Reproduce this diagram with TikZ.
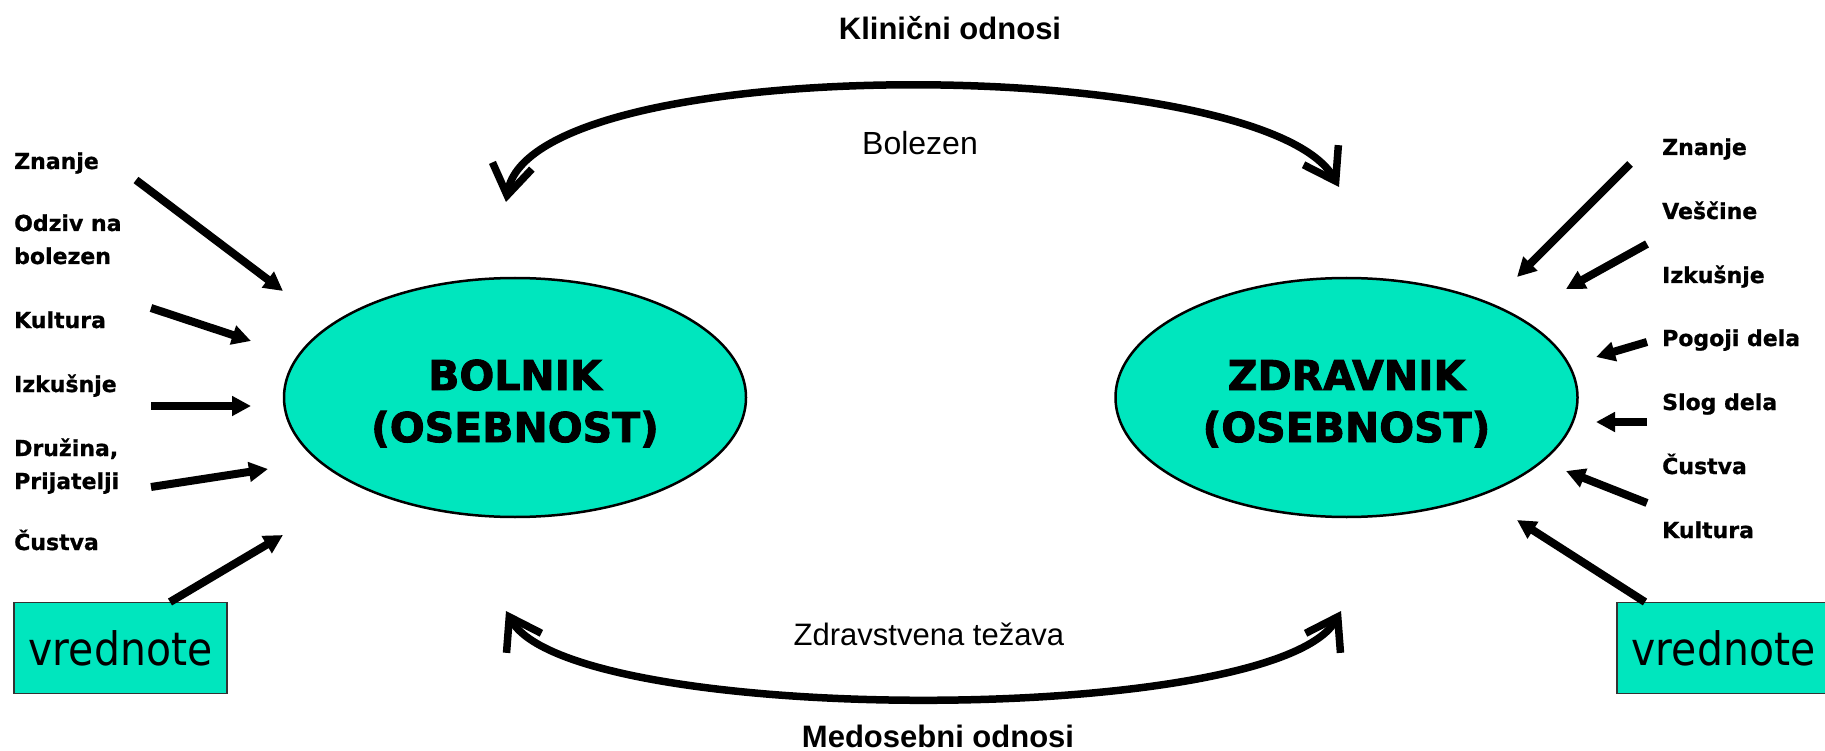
\documentclass[tikz,border=0pt]{standalone}
\usepackage{fontspec}
\setmainfont{Liberation Sans}
\newfontfamily\lblfont[FakeBold=0.9]{DejaVu Sans Bold}
\newfontfamily\perfont[FakeBold=2.2]{DejaVu Sans Bold}
\newfontfamily\vrfont[FakeStretch=0.89]{DejaVu Sans}
\usetikzlibrary{arrows.meta,shapes.geometric}
\definecolor{turq}{HTML}{00E6BE}
\begin{document}
\begin{tikzpicture}[x=1pt,y=-1pt,
  lbl/.style={anchor=base west,inner sep=0pt,font=\lblfont\fontsize{22}{33}\selectfont},
  person/.style={ellipse,draw=black,line width=2.5pt,fill=turq,minimum width=462pt,minimum height=239pt,inner sep=0pt},
  ptext/.style={anchor=base,inner sep=0pt,font=\perfont\fontsize{41}{52}\selectfont},
  valbox/.style={draw=black!80,line width=1.2pt,fill=turq,minimum width=213pt,minimum height=91pt,inner sep=0pt,font=\vrfont\fontsize{46}{55}\selectfont},
  inarrow/.style={line width=8pt,-{Triangle[length=19pt,width=19pt]}},
  relarrow/.style={line width=7.5pt,{Straight Barb[length=30pt,width=40pt]}-{Straight Barb[length=30pt,width=40pt]}},
  reltitle/.style={anchor=base,inner sep=0pt,font=\bfseries\fontsize{31}{37}\selectfont},
  reltext/.style={anchor=base,inner sep=0pt,font=\fontsize{32}{38}\selectfont}
]
\useasboundingbox[fill=white] (0,0) rectangle (1825,751);

% relation titles and texts
\node[reltitle] (klin) at (950,40) {Klinični odnosi};
\node[reltitle] (medo) at (938,747) {Medosebni odnosi};
\node[reltext] (bolz) at (920,155) {Bolezen};
\node[reltext,font=\fontsize{31}{37}\selectfont] (zdrt) at (929,645) {Zdravstvena težava};

% curved relation arrows
\coordinate (tl) at (506,202);
\coordinate (tr) at (1339,187);
\draw[relarrow] (tl) .. controls (532,49) and (1264,54) .. (tr);
\coordinate (bl) at (506,611);
\coordinate (br) at (1341,611);
\draw[relarrow] (bl) .. controls (571,727) and (1276,727) .. (br);

% persons
\node[person] (bol) at (515,397.5) {};
\node[ptext] (boltxt) at (515,390) {\begin{tabular}[t]{@{}c@{}}BOLNIK\\(OSEBNOST)\end{tabular}};
\node[person] (zdr) at (1346.5,397.5) {};
\node[ptext] (zdrtxt) at (1346.5,390) {\begin{tabular}[t]{@{}c@{}}ZDRAVNIK\\(OSEBNOST)\end{tabular}};

% value boxes
\node[valbox] (vl) at (120.5,648) {vrednote};
\node[valbox] (vr) at (1723.5,648) {vrednote};

% left labels
\node[lbl] (lzn) at (14,169) {Znanje};
\node[lbl] (lodz) at (14,231) {\begin{tabular}[t]{@{}l@{}}Odziv na\\bolezen\end{tabular}};
\node[lbl] (lkul) at (14,328) {Kultura};
\node[lbl] (lizk) at (14,392) {Izkušnje};
\node[lbl] (ldru) at (14,456) {\begin{tabular}[t]{@{}l@{}}Družina,\\Prijatelji\end{tabular}};
\node[lbl] (lcus) at (14,550) {Čustva};

% right labels
\node[lbl] (rzn) at (1662,155) {Znanje};
\node[lbl] (rves) at (1662,219) {Veščine};
\node[lbl] (rizk) at (1662,283) {Izkušnje};
\node[lbl] (rpog) at (1662,346) {Pogoji dela};
\node[lbl] (rslo) at (1662,410) {Slog dela};
\node[lbl] (rcus) at (1662,474) {Čustva};
\node[lbl] (rkul) at (1662,538) {Kultura};

% left arrows
\coordinate (la1) at (136,180);  \coordinate (la1e) at (283,291);
\coordinate (la2) at (151,308);  \coordinate (la2e) at (251,341);
\coordinate (la3) at (151,406);  \coordinate (la3e) at (251,406);
\coordinate (la4) at (151,487);  \coordinate (la4e) at (268,469);
\coordinate (la5) at (170,602);  \coordinate (la5e) at (283,535);
\draw[inarrow] (la1) -- (la1e);
\draw[inarrow] (la2) -- (la2e);
\draw[inarrow] (la3) -- (la3e);
\draw[inarrow] (la4) -- (la4e);
\draw[inarrow] (la5) -- (la5e);

% right arrows
\coordinate (ra1) at (1630,164);  \coordinate (ra1e) at (1517,277);
\coordinate (ra2) at (1647,244);  \coordinate (ra2e) at (1566,289);
\coordinate (ra3) at (1647,342);  \coordinate (ra3e) at (1596,357);
\coordinate (ra4) at (1647,422);  \coordinate (ra4e) at (1596,422);
\coordinate (ra5) at (1647,503);  \coordinate (ra5e) at (1566,471);
\coordinate (ra6) at (1645,602);  \coordinate (ra6e) at (1517,520);
\draw[inarrow] (ra1) -- (ra1e);
\draw[inarrow] (ra2) -- (ra2e);
\draw[inarrow] (ra3) -- (ra3e);
\draw[inarrow] (ra4) -- (ra4e);
\draw[inarrow] (ra5) -- (ra5e);
\draw[inarrow] (ra6) -- (ra6e);
\end{tikzpicture}
\end{document}
